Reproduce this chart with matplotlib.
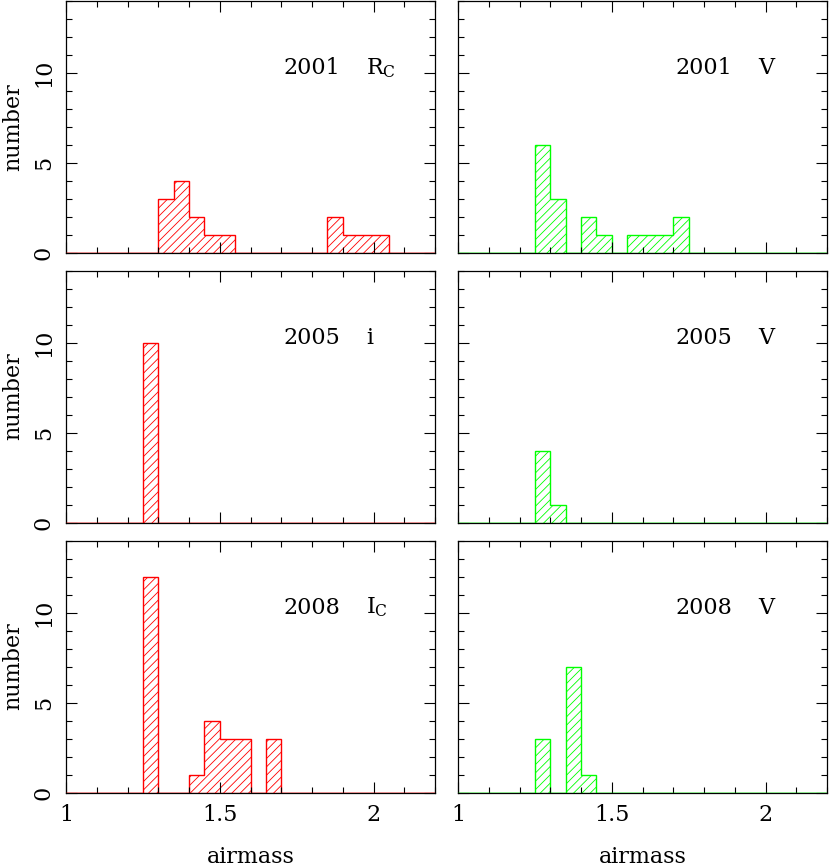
import numpy as np
import matplotlib
matplotlib.use("Agg")
import matplotlib.pyplot as plt
from matplotlib.ticker import MultipleLocator

plt.rcParams['font.family'] = ['DejaVu Serif']
plt.rcParams['mathtext.fontset'] = 'dejavuserif'
plt.rcParams['hatch.linewidth'] = 0.6

# ---- data (bin left edges, bin width 0.05) ----
bin_width = 0.05

r2001_left = [1.30, 1.35, 1.40, 1.45, 1.50, 1.85, 1.90, 1.95, 2.00]
r2001_count = [3, 4, 2, 1, 1, 2, 1, 1, 1]

v2001_left = [1.25, 1.30, 1.40, 1.45, 1.55, 1.60, 1.65, 1.70]
v2001_count = [6, 3, 2, 1, 1, 1, 1, 2]

i2005_left = [1.25]
i2005_count = [10]

v2005_left = [1.25, 1.30]
v2005_count = [4, 1]

i2008_left = [1.25, 1.40, 1.45, 1.50, 1.55, 1.65]
i2008_count = [12, 1, 4, 3, 3, 3]

v2008_left = [1.25, 1.35, 1.40]
v2008_count = [3, 7, 1]

years = [["2001", "2001"], ["2005", "2005"], ["2008", "2008"]]
bands = [["R$_{\\mathrm{C}}$", "V"],
         ["i", "V"],
         ["I$_{\\mathrm{C}}$", "V"]]
panels = [[(r2001_left, r2001_count), (v2001_left, v2001_count)],
          [(i2005_left, i2005_count), (v2005_left, v2005_count)],
          [(i2008_left, i2008_count), (v2008_left, v2008_count)]]
colors = ["#ff0000", "#00ff00"]

xmin, xmax = 1.0, 2.2
ymin, ymax = 0, 14

W, H = 830, 867
fig = plt.figure(figsize=(W / 100, H / 100), dpi=100)

col_x = [66, 458]
pw = 369
row_top = [1, 270.5, 540.5]
ph = 252

fs = 16

for r in range(3):
    for c in range(2):
        x0 = col_x[c] / W
        y0 = (H - row_top[r] - ph) / H
        ax = fig.add_axes([x0, y0, pw / W, ph / H])
        lefts, counts = panels[r][c]
        nb = int(round((xmax - xmin) / bin_width))
        edges = xmin + bin_width * np.arange(nb + 1)
        vals = np.zeros(nb)
        for l, n in zip(lefts, counts):
            vals[int(round((l - xmin) / bin_width))] = n
        col = colors[c]
        ax.stairs(vals, edges, fill=True, facecolor='none', edgecolor=col,
                  hatch='////', linewidth=1.0)
        ax.axhline(0, color=col, lw=1.0, zorder=3)
        ax.set_xlim(xmin, xmax)
        ax.set_ylim(ymin, ymax)
        ax.xaxis.set_major_locator(MultipleLocator(0.5))
        ax.xaxis.set_minor_locator(MultipleLocator(0.1))
        ax.yaxis.set_major_locator(MultipleLocator(5))
        ax.yaxis.set_minor_locator(MultipleLocator(1))
        ax.tick_params(which='both', direction='in', top=True, right=True,
                       labelsize=fs, width=0.8, color='black', pad=8)
        ax.tick_params(which='major', length=8)
        ax.tick_params(which='minor', length=4.3)
        for sp in ax.spines.values():
            sp.set_linewidth(0.9)
        ax.xaxis.set_major_formatter(plt.FuncFormatter(lambda v, p: f"{v:g}"))
        if r < 2:
            ax.tick_params(labelbottom=False)
        else:
            fig.text(x0 + pw / W / 2, 4 / H, "airmass", ha='center',
                     va='baseline', fontsize=fs)
        if c == 1:
            ax.tick_params(labelleft=False)
        else:
            for lab in ax.get_yticklabels():
                lab.set_rotation(90)
                lab.set_va('center')
            ax.set_ylabel("number", fontsize=fs)
            ax.yaxis.set_label_coords(-0.112, 0.5)
        ax.text(0.588, 0.709, years[r][c], transform=ax.transAxes,
                fontsize=fs, ha='left', va='baseline')
        ax.text(0.814, 0.709, bands[r][c], transform=ax.transAxes,
                fontsize=fs, ha='left', va='baseline')

fig.savefig("out.png", dpi=100)
